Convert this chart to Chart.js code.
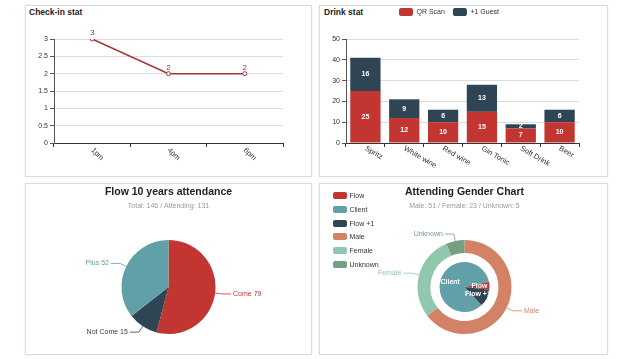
<!DOCTYPE html>
<html>
<head>
<meta charset="utf-8">
<script src="https://cdn.jsdelivr.net/npm/chart.js@4.4.1/dist/chart.umd.min.js"></script>
<style>
body { margin: 0; background: #fff; font-family: "Liberation Sans", Arial, sans-serif; }
.panel { position: absolute; box-sizing: border-box; border: 1px solid #dcdcdc; box-shadow: 0 0 2px rgba(0,0,0,0.08); }
canvas { position: absolute; }
.ttl { position: absolute; font-weight: bold; font-size: 8.5px; line-height: 10px; color: #222; }
#genderLegend { position: absolute; left: 333px; top: 189px; font-size: 7px; color: #333; }
#genderLegend div { height: 13.7px; display: flex; align-items: center; }
#genderLegend span { display: inline-block; width: 14px; height: 7px; border-radius: 2px; margin-right: 2.5px; }
</style>
</head>
<body>
<div class="panel" style="left:25px;top:5px;width:287px;height:172px"></div>
<div class="panel" style="left:319px;top:5px;width:289px;height:172px"></div>
<div class="panel" style="left:25px;top:183px;width:287px;height:172px"></div>
<div class="panel" style="left:319px;top:183px;width:289px;height:172px"></div>

<div class="ttl" style="left:29px;top:7px">Check-in stat</div>
<div class="ttl" style="left:324px;top:7px">Drink stat</div>

<canvas id="checkin" width="287" height="172" style="left:25px;top:5px"></canvas>
<canvas id="drinks" width="289" height="177" style="left:319px;top:0px"></canvas>
<canvas id="attendance" width="287" height="172" style="left:25px;top:183px"></canvas>
<canvas id="gender" width="289" height="172" style="left:319px;top:183px"></canvas>
<div id="genderLegend"></div>

<script>
// Check-in stat
const checkinTimes = ['1pm', '4pm', '6pm'];
const checkinCounts = [3, 2, 2];

// Drink stat
const drinks = ['Spritz', 'White wine', 'Red wine', 'Gin Tonic', 'Soft Drink', 'Beer'];
const qrScan = [25, 12, 10, 15, 7, 10];
const plusGuest = [16, 9, 6, 13, 2, 6];

// Flow 10 years attendance
const attendLabels = ['Come', 'Not Come', 'Plus'];
const attendValues = [79, 15, 52];

// Attending gender chart
const genderLabels = ['Male', 'Female', 'Unknown'];
const genderValues = [51, 23, 5];
const teamLabels = ['Flow', 'Client', 'Flow +1'];
const teamValues = [4, 66, 9];

const RED = '#c23531', NAVY = '#2f4554', TEAL = '#61a0a8';
const genderColors = ['#d48265', '#91c7ae', '#749f83'];
const teamColors = [RED, TEAL, NAVY];
const FONT = '"Liberation Sans", Arial, sans-serif';

Chart.defaults.font.family = FONT;
Chart.defaults.font.size = 7;
Chart.defaults.color = '#333';
Chart.defaults.animation = false;
Chart.defaults.events = [];
Chart.defaults.plugins.legend.display = false;
Chart.defaults.plugins.tooltip.enabled = false;

// x labels slanting down to the right, starting at the tick
const slantLabels = {
    id: 'slantLabels',
    afterDraw(chart, args, opts) {
        const scale = chart.scales.x;
        const ctx = chart.ctx;
        ctx.save();
        ctx.font = '7.5px ' + FONT;
        ctx.fillStyle = '#333';
        ctx.textAlign = 'left';
        ctx.textBaseline = 'middle';
        scale.ticks.forEach((t, i) => {
            ctx.save();
            ctx.translate(scale.getPixelForTick(i), scale.top + opts.gap);
            ctx.rotate(opts.angle * Math.PI / 180);
            ctx.fillText(scale.getLabelForValue(t.value), 0, 0);
            ctx.restore();
        });
        ctx.restore();
    }
};

const pointValues = {
    id: 'pointValues',
    afterDatasetsDraw(chart, args, opts) {
        const ctx = chart.ctx;
        const ds = chart.data.datasets[0];
        ctx.save();
        ctx.font = '8px ' + FONT;
        ctx.fillStyle = opts.color;
        ctx.textAlign = 'center';
        ctx.textBaseline = 'bottom';
        chart.getDatasetMeta(0).data.forEach((pt, i) => {
            ctx.fillText(ds.data[i], pt.x, pt.y - 2);
        });
        ctx.restore();
    }
};

const barValues = {
    id: 'barValues',
    afterDatasetsDraw(chart) {
        const ctx = chart.ctx;
        ctx.save();
        ctx.font = 'bold 7px ' + FONT;
        ctx.fillStyle = '#fff';
        ctx.textAlign = 'center';
        ctx.textBaseline = 'middle';
        chart.data.datasets.forEach((ds, d) => {
            chart.getDatasetMeta(d).data.forEach((bar, i) => {
                ctx.fillText(ds.data[i], bar.x, (bar.y + bar.base) / 2);
            });
        });
        ctx.restore();
    }
};

// push the plot down under the legend
const legendGap = {
    id: 'legendGap',
    beforeInit(chart) {
        const fit = chart.legend.fit;
        chart.legend.fit = function () {
            fit.call(this);
            this.height += 13;
        };
    }
};

// labels outside a pie with a two-part leader line
const outLabels = {
    id: 'outLabels',
    afterDraw(chart, args, opts) {
        const ctx = chart.ctx;
        const ds = chart.data.datasets[opts.dataset];
        ctx.save();
        ctx.font = '7px ' + FONT;
        ctx.textBaseline = 'middle';
        ctx.lineWidth = 0.8;
        chart.getDatasetMeta(opts.dataset).data.forEach((arc, i) => {
            const v = ds.data[i];
            if (!v) return;
            const mid = (arc.startAngle + arc.endAngle) / 2;
            const r = arc.outerRadius;
            const cos = Math.cos(mid), sin = Math.sin(mid);
            const x0 = arc.x + cos * r, y0 = arc.y + sin * r;
            const x1 = arc.x + cos * (r + 7), y1 = arc.y + sin * (r + 7);
            const dir = cos >= 0 ? 1 : -1;
            const x2 = x1 + dir * 9;
            ctx.strokeStyle = ds.backgroundColor[i];
            ctx.fillStyle = ds.backgroundColor[i];
            ctx.beginPath();
            ctx.moveTo(x0, y0);
            ctx.lineTo(x1, y1);
            ctx.lineTo(x2, y1);
            ctx.stroke();
            ctx.textAlign = dir > 0 ? 'left' : 'right';
            const text = opts.showValue ? chart.data.labels[i] + ' ' + v : chart.data.labels[i];
            ctx.fillText(text, x2 + dir * 2, y1);
        });
        ctx.restore();
    }
};

// labels inside the inner pie
const inLabels = {
    id: 'inLabels',
    afterDraw(chart, args, opts) {
        const ctx = chart.ctx;
        const ds = chart.data.datasets[opts.dataset];
        ctx.save();
        ctx.font = 'bold 7px ' + FONT;
        ctx.fillStyle = '#fff';
        ctx.textAlign = 'center';
        ctx.textBaseline = 'middle';
        chart.getDatasetMeta(opts.dataset).data.forEach((arc, i) => {
            if (!ds.data[i]) return;
            const mid = (arc.startAngle + arc.endAngle) / 2;
            const r = arc.outerRadius * 0.6;
            ctx.fillText(chart.data.labels[i], arc.x + Math.cos(mid) * r, arc.y + Math.sin(mid) * r);
        });
        ctx.restore();
    }
};

const axisY = (max, step, width) => ({
    min: 0, max: max,
    ticks: { stepSize: step, padding: 2, font: { size: 7 }, callback: v => String(v) },
    grid: { color: '#dddddd', tickLength: 4, tickColor: '#555' },
    border: { color: '#555' },
    afterFit: s => { s.width = width; }
});
const axisX = {
    offset: true,
    grid: { offset: true, drawOnChartArea: false, tickLength: 4, tickColor: '#333' },
    border: { color: '#333' },
    ticks: { display: false },
    afterFit: s => { s.height = 34; }
};

new Chart(document.getElementById('checkin'), {
    type: 'line',
    data: {
        labels: checkinTimes,
        datasets: [{
            data: checkinCounts,
            borderColor: '#a5323b',
            borderWidth: 1.5,
            pointRadius: 2,
            pointBackgroundColor: '#fff',
            pointBorderColor: '#a5323b',
            pointBorderWidth: 1,
            tension: 0
        }]
    },
    options: {
        responsive: false,
        layout: { padding: { top: 34, right: 29 } },
        scales: { x: axisX, y: axisY(3, 0.5, 29) },
        plugins: { slantLabels: { angle: 45, gap: 6 }, pointValues: { color: '#a5323b' } }
    },
    plugins: [slantLabels, pointValues]
});

new Chart(document.getElementById('drinks'), {
    type: 'bar',
    data: {
        labels: drinks,
        datasets: [
            { label: 'QR Scan', data: qrScan, backgroundColor: RED, stack: 's' },
            { label: '+1 Guest', data: plusGuest, backgroundColor: NAVY, stack: 's' }
        ]
    },
    options: {
        responsive: false,
        categoryPercentage: 0.78,
        barPercentage: 1,
        layout: { padding: { right: 29 } },
        scales: {
            x: Object.assign({ stacked: true }, axisX),
            y: Object.assign({ stacked: true }, axisY(50, 10, 27))
        },
        plugins: {
            legend: {
                display: true,
                labels: { boxWidth: 14, boxHeight: 8, padding: 8, useBorderRadius: true, borderRadius: 2, font: { size: 7 }, color: '#333' }
            },
            slantLabels: { angle: 30, gap: 5 }
        }
    },
    plugins: [legendGap, slantLabels, barValues]
});

new Chart(document.getElementById('attendance'), {
    type: 'pie',
    data: {
        labels: attendLabels,
        datasets: [{ data: attendValues, backgroundColor: [RED, NAVY, TEAL], borderWidth: 0 }]
    },
    options: {
        responsive: false,
        radius: 47,
        plugins: {
            title: { display: true, text: 'Flow 10 years attendance', color: '#222', font: { size: 10.5, weight: 'bold' }, padding: { top: 2.7, bottom: 3.5 } },
            subtitle: { display: true, text: 'Total: 146 / Attending: 131', color: '#999', font: { size: 7 }, padding: { top: 0, bottom: 8.8 } },
            outLabels: { dataset: 0, showValue: true }
        }
    },
    plugins: [outLabels]
});

// inner ring is drawn Flow, Flow +1, Client going clockwise
const teamRingOrder = [0, 2, 1];
const ringLabels = genderLabels.concat(teamRingOrder.map(i => teamLabels[i]));
const ringColors = genderColors.concat(teamRingOrder.map(i => teamColors[i]));

new Chart(document.getElementById('gender'), {
    type: 'doughnut',
    data: {
        labels: ringLabels,
        datasets: [
            { data: genderValues.concat([0, 0, 0]), backgroundColor: ringColors, borderWidth: 0, weight: 13 },
            { data: [1], backgroundColor: ['rgba(0,0,0,0)'], borderWidth: 0, weight: 9 },
            { data: [0, 0, 0].concat(teamRingOrder.map(i => teamValues[i])), backgroundColor: ringColors, borderWidth: 0, weight: 25, rotation: 78 }
        ]
    },
    options: {
        responsive: false,
        radius: 47,
        cutout: 0,
        layout: { padding: { left: 2 } },
        plugins: {
            title: { display: true, text: 'Attending Gender Chart', color: '#222', font: { size: 10.5, weight: 'bold' }, padding: { top: 2.7, bottom: 3.5 } },
            subtitle: { display: true, text: 'Male: 51 / Female: 23 / Unknown: 5', color: '#999', font: { size: 7 }, padding: { top: 0, bottom: 8.8 } },
            outLabels: { dataset: 0, showValue: false },
            inLabels: { dataset: 2 }
        }
    },
    plugins: [outLabels, inLabels]
});

// legend for the gender chart
const legendBox = document.getElementById('genderLegend');
teamLabels.concat(genderLabels).forEach((name, i) => {
    const color = teamColors.concat(genderColors)[i];
    const row = document.createElement('div');
    row.innerHTML = '<span style="background:' + color + '"></span>' + name;
    legendBox.appendChild(row);
});
</script>
</body>
</html>
